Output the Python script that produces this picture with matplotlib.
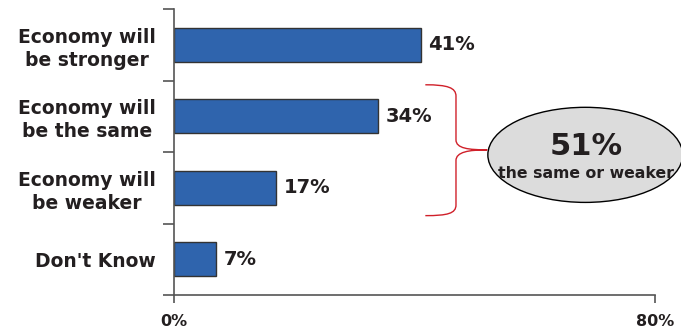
import matplotlib.pyplot as plt
from matplotlib.patches import Ellipse, PathPatch
from matplotlib.path import Path

categorias = ["Economy will\nbe stronger", "Economy will\nbe the same",
              "Economy will\nbe weaker", "Don't Know"]
valores = [41, 34, 17, 7]
rotulos_x = ["0%", "80%"]
destaque_valor = "51%"
destaque_texto = "the same or weaker"

cor_barra = "#2f64ad"
cor_texto = "#231f20"

fig = plt.figure(figsize=(6.81, 3.29), dpi=100)
ax = fig.add_axes([174 / 681, 1 - 295 / 329, 481 / 681, 286 / 329])

pos = list(range(len(categorias)))
barras = ax.barh(pos, valores, height=0.48, color=cor_barra,
                 edgecolor="#333333", linewidth=1.0)

for b, v in zip(barras, valores):
    ax.text(b.get_width() + 1.2, b.get_y() + b.get_height() / 2, f"{v}%",
            va="center", ha="left", fontsize=14, fontweight="bold", color=cor_texto)

ax.set_xlim(0, 80)
ax.set_ylim(3.5, -0.5)

ax.set_yticks(pos)
ax.set_yticklabels(categorias, fontsize=13.5, fontweight="bold", color=cor_texto,
                   linespacing=1.25)
for t in ax.get_yticklabels():
    t.set_multialignment("center")
ax.tick_params(axis="y", which="major", length=0, pad=13)
ax.set_yticks([-0.5, 0.5, 1.5, 2.5, 3.5], minor=True)
ax.tick_params(axis="y", which="minor", length=8, width=1.2, color="#555555")

ax.set_xticks([0, 80])
ax.set_xticklabels(rotulos_x, fontsize=11.5, fontweight="bold", color=cor_texto)
ax.tick_params(axis="x", length=6, width=1.2, color="#555555", pad=8)

for lado in ["top", "right"]:
    ax.spines[lado].set_visible(False)
for lado in ["left", "bottom"]:
    ax.spines[lado].set_color("#555555")
    ax.spines[lado].set_linewidth(1.2)

# chave vermelha
x0, x1, x2 = 41.8, 46.9, 52.1
verts = [
    (x0, 0.56), (45.5, 0.56), (x1, 0.60), (x1, 0.72),
    (x1, 1.33),
    (x1, 1.45), (49.0, 1.47), (x2, 1.47),
    (49.0, 1.47), (x1, 1.50), (x1, 1.62),
    (x1, 2.24),
    (x1, 2.36), (45.5, 2.39), (x0, 2.39),
]
codes = [Path.MOVETO, Path.CURVE4, Path.CURVE4, Path.CURVE4,
         Path.LINETO,
         Path.CURVE4, Path.CURVE4, Path.CURVE4,
         Path.CURVE4, Path.CURVE4, Path.CURVE4,
         Path.LINETO,
         Path.CURVE4, Path.CURVE4, Path.CURVE4]
chave = PathPatch(Path(verts, codes), facecolor="none", edgecolor="#d0202a",
                  linewidth=1.0, clip_on=False)
ax.add_patch(chave)

elipse = Ellipse((68.4, 1.54), 32.4, 1.33, facecolor="#dcdcdc",
                 edgecolor="black", linewidth=1.0, clip_on=False)
ax.add_patch(elipse)
ax.text(68.6, 1.42, destaque_valor, ha="center", va="center", fontsize=22,
        fontweight="bold", color=cor_texto)
ax.text(68.6, 1.80, destaque_texto, ha="center", va="center", fontsize=11.3,
        fontweight="bold", color=cor_texto)

plt.savefig("out.png", dpi=100)
